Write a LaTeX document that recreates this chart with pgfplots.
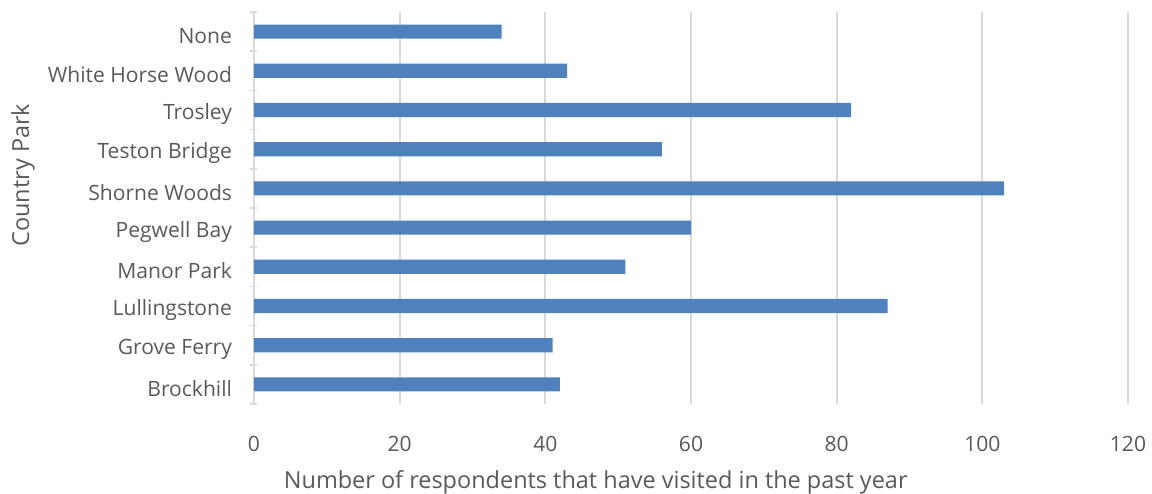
\documentclass[border=0pt]{standalone}
\usepackage{fontspec}
\setmainfont{Open Sans}
\usepackage{pgfplots}
\pgfplotsset{compat=1.18}
\definecolor{barblue}{HTML}{4F81BD}
\definecolor{gridgray}{HTML}{D9D9D9}
\definecolor{textgray}{HTML}{595959}
\begin{document}
\begin{tikzpicture}
\begin{axis}[
  scale only axis,
  width=655.5pt, height=294pt,
  xbar, bar width=0.36,
  xmin=0, xmax=120,
  ymin=-0.5, ymax=9.5,
  xtick={0,20,...,120},
  ytick={0,...,9},
  yticklabels={Brockhill,Grove Ferry,Lullingstone,Manor Park,Pegwell Bay,Shorne Woods,Teston Bridge,Trosley,White Horse Wood,None},
  minor ytick={-0.5,0.5,...,9.5},
  major tick length=0pt,
  minor tick length=5.25pt,
  tick align=outside,
  minor y tick style={draw=gridgray, line width=1.2pt},
  axis lines=left,
  axis line style={-},
  x axis line style={draw=none},
  y axis line style={draw=gridgray, line width=1.2pt},
  xmajorgrids,
  major grid style={draw=gridgray, line width=1.4pt},
  tick label style={text=textgray, font=\fontsize{15.8}{18}\selectfont},
  /pgf/number format/assume math mode=true,
  yticklabel style={xshift=-13pt, yshift=-3pt},
  xticklabel style={yshift=-21pt},
  xlabel={Number of respondents that have visited in the past year},
  ylabel={Country Park},
  label style={text=textgray, font=\fontsize{17.6}{20}\selectfont},
  xlabel style={at={(axis description cs:0.391,0)}, anchor=center, yshift=-58.5pt},
  ylabel style={at={(axis description cs:-0.2643,0.584)}, anchor=center},
]
\addplot[fill=barblue, draw=none] coordinates {
  (42,0) (41,1) (87,2) (51,3) (60,4) (103,5) (56,6) (82,7) (43,8) (34,9)
};
\end{axis}
\pgfresetboundingbox
\path[use as bounding box] (-190.5pt,-66.75pt) rectangle (673.5pt,303pt);
\end{tikzpicture}
\end{document}
